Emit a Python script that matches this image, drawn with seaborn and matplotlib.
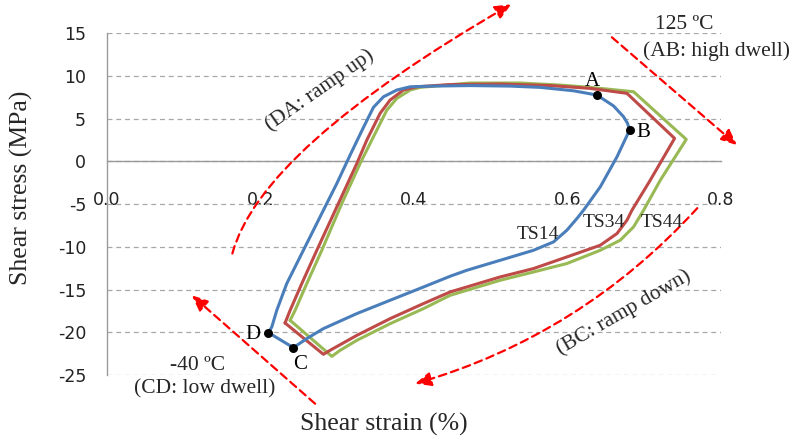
import matplotlib
matplotlib.use("Agg")
import matplotlib.pyplot as plt
import pandas as pd
import seaborn as sns

# ---------------- data ----------------
ts14_strain = [0.2104, 0.2148, 0.2213, 0.2343, 0.2560, 0.2821, 0.2996, 0.3169, 0.3326,
               0.3473, 0.3604, 0.3778, 0.3952, 0.4252, 0.4734, 0.5256, 0.5648, 0.6082,
               0.6387, 0.6603, 0.6734, 0.6786, 0.6812, 0.6648, 0.6430, 0.6212, 0.6126,
               0.5995, 0.5821, 0.5560, 0.5126, 0.4691, 0.4473, 0.4125, 0.3691, 0.3257,
               0.2821, 0.2604, 0.2430, 0.2104]
ts14_stress = [-20.04, -19.38, -17.43, -14.30, -10.40, -5.71, -2.58, 0.74, 3.67,
               6.33, 7.57, 8.36, 8.74, 8.82, 8.88, 8.82, 8.67, 8.27,
               7.77, 6.50, 5.23, 4.45, 3.67, 0.54, -2.98, -5.71, -6.68,
               -8.05, -9.42, -10.40, -11.57, -12.74, -13.44, -14.70, -16.25, -17.81,
               -19.57, -20.74, -21.80, -20.04]

ts34_strain = [0.2321, 0.2387, 0.2539, 0.2735, 0.2996, 0.3257, 0.3387, 0.3560, 0.3690,
               0.3864, 0.4039, 0.4473, 0.5126, 0.5778, 0.6300, 0.6778, 0.7399, 0.7082,
               0.6843, 0.6778, 0.6648, 0.6430, 0.5995, 0.5560, 0.5126, 0.4473, 0.4125,
               0.3691, 0.3257, 0.2908, 0.2821, 0.2321]
ts34_stress = [-18.91, -17.43, -14.30, -10.40, -5.32, -0.23, 2.50, 5.63, 7.18,
               8.36, 8.74, 9.00, 9.06, 8.88, 8.55, 7.97, 2.70, -2.19,
               -5.71, -6.88, -8.44, -9.81, -11.18, -12.54, -13.52, -15.28, -16.64,
               -18.40, -20.36, -22.11, -22.58, -18.91]

ts44_strain = [0.2387, 0.2452, 0.2604, 0.2800, 0.3061, 0.3300, 0.3473, 0.3648, 0.3778,
               0.3952, 0.4082, 0.4734, 0.5387, 0.5909, 0.6300, 0.6864, 0.7551, 0.7213,
               0.6995, 0.6864, 0.6691, 0.6430, 0.5995, 0.5560, 0.5126, 0.4473, 0.4125,
               0.3691, 0.3257, 0.3039, 0.2931, 0.2387]
ts44_stress = [-18.60, -17.43, -14.30, -10.40, -4.92, -0.23, 2.88, 6.01, 7.38,
               8.36, 8.67, 9.18, 9.18, 8.94, 8.67, 8.16, 2.58, -2.19,
               -5.71, -7.66, -9.22, -10.40, -11.95, -12.94, -13.91, -15.67, -17.23,
               -18.99, -20.94, -22.11, -22.82, -18.60]

series_names = ["TS14", "TS34", "TS44"]
series_colors = ["#4A7EBB", "#BE4B48", "#98B954"]

point_labels = ["A", "B", "C", "D"]
point_strain = [0.6387, 0.6812, 0.2430, 0.2104]
point_stress = [7.77, 3.67, -21.80, -20.04]

x_ticks = [0.0, 0.2, 0.4, 0.6, 0.8]
x_tick_labels = ["0.0", "0.2", "0.4", "0.6", "0.8"]
y_ticks = [-25, -20, -15, -10, -5, 0, 5, 10, 15]

# ---------------- figure ----------------
sns.set_style("white")
plt.rcParams["font.family"] = ["DejaVu Sans"]
plt.rcParams["axes.unicode_minus"] = False
SERIF = ["Liberation Serif", "DejaVu Serif"]

W, H = 794, 443
fig = plt.figure(figsize=(W / 100, H / 100), dpi=100)
ax = fig.add_axes([107 / W, 1 - 375 / H, 613.7 / W, 341.7 / H])

df = pd.concat([
    pd.DataFrame({"strain": ts14_strain, "stress": ts14_stress, "series": "TS14"}),
    pd.DataFrame({"strain": ts34_strain, "stress": ts34_stress, "series": "TS34"}),
    pd.DataFrame({"strain": ts44_strain, "stress": ts44_stress, "series": "TS44"}),
], ignore_index=True)

# draw green first, then red, then blue on top
order = ["TS44", "TS34", "TS14"]
for name in order:
    sub = df[df["series"] == name]
    sns.lineplot(data=sub, x="strain", y="stress", sort=False, estimator=None,
                 color=series_colors[series_names.index(name)], lw=2.2,
                 legend=False, ax=ax, zorder=3)

sns.scatterplot(x=point_strain, y=point_stress, color="black", s=42,
                edgecolor="black", linewidth=0, zorder=6, ax=ax)

pt_offsets = {"A": (-3, 10), "B": (10, -2), "C": (5, -12), "D": (-11, -1)}
for lab, xv, yv in zip(point_labels, point_strain, point_stress):
    ax.annotate(lab, (xv, yv), xytext=pt_offsets[lab], textcoords="offset points",
                ha="center", va="center", fontsize=15, family=SERIF, color="black")

# series labels
ax.text(0.5614, -8.55, "TS14", ha="center", va="center", fontsize=14, family=SERIF, zorder=7)
ax.text(0.6482, -7.17, "TS34", ha="center", va="center", fontsize=14, family=SERIF, zorder=7)
ax.text(0.7234, -7.10, "TS44", ha="center", va="center", fontsize=14, family=SERIF, zorder=7)

# ---------------- axes styling ----------------
ax.set_xlim(0, 0.8)
ax.set_ylim(-25, 15)
ax.set_xticks(x_ticks)
ax.set_xticklabels(x_tick_labels)
ax.set_yticks(y_ticks)
ax.spines["top"].set_visible(False)
ax.spines["right"].set_visible(False)
ax.spines["bottom"].set_position(("data", 0))
for s in ["left", "bottom"]:
    ax.spines[s].set_color("#9a9a9a")
    ax.spines[s].set_linewidth(1.0)
ax.tick_params(axis="x", direction="out", length=4.5, width=1.0, color="#9a9a9a",
               pad=17, labelsize=12.5, labelcolor="#222222")
ax.tick_params(axis="y", direction="out", length=5, width=1.0, color="#9a9a9a",
               pad=10, labelsize=12.5, labelcolor="#222222")
ax.set_axisbelow(True)
ax.yaxis.grid(True, linestyle=(0, (4, 3)), color="#a8a8a8", lw=0.9)
ax.xaxis.grid(False)

ax.set_xlabel("Shear strain (%)", family=SERIF, fontsize=18.5)
ax.xaxis.set_label_coords(0.451, -0.146)
ax.xaxis.label.set_va("center")
ax.set_ylabel("Shear stress (MPa)", family=SERIF, fontsize=18.5)
ax.yaxis.set_label_coords(-0.140, 0.549)
ax.yaxis.label.set_va("center")

# ---------------- red dashed arrows and annotations ----------------
arrow_kw = dict(arrowstyle="-|>,head_length=0.8,head_width=0.35", color="red",
                lw=1.6, linestyle=(0, (3.5, 2.2)), shrinkA=0, shrinkB=0,
                mutation_scale=12)

ax.annotate("", xy=(0.5270, 18.40), xytext=(0.1634, -10.78), annotation_clip=False,
            arrowprops=dict(connectionstyle="angle3,angleA=75,angleB=30", **arrow_kw))
ax.annotate("", xy=(0.8213, 1.91), xytext=(0.6582, 14.53), annotation_clip=False,
            arrowprops=dict(connectionstyle="arc3,rad=0", **arrow_kw))
ax.annotate("", xy=(0.4017, -26.02), xytext=(0.7695, -5.47), annotation_clip=False,
            arrowprops=dict(connectionstyle="arc3,rad=-0.14", **arrow_kw))
ax.annotate("", xy=(0.1105, -15.67), xytext=(0.2713, -28.36), annotation_clip=False,
            arrowprops=dict(connectionstyle="arc3,rad=0", **arrow_kw))

ax.text(0.2778, 8.35, "(DA: ramp up)", rotation=35, rotation_mode="anchor",
        ha="center", va="center", fontsize=15.5, family=SERIF)
ax.text(0.6733, -17.63, "(BC: ramp down)", rotation=30, rotation_mode="anchor",
        ha="center", va="center", fontsize=15.5, family=SERIF)
ax.text(0.7525, 16.0, "125 \u00baC", ha="center", va="center", fontsize=15.5,
        family=SERIF, clip_on=False)
ax.text(0.7942, 12.93, "(AB: high dwell)", ha="center", va="center", fontsize=15.5,
        family=SERIF, clip_on=False)
ax.text(0.118, -23.9, "-40 \u00baC", ha="center", va="center", fontsize=15.5,
        family=SERIF, clip_on=False)
ax.text(0.1274, -26.6, "(CD: low dwell)", ha="center", va="center", fontsize=15.5,
        family=SERIF, clip_on=False)

fig.savefig("out.png", dpi=100, facecolor="white")
